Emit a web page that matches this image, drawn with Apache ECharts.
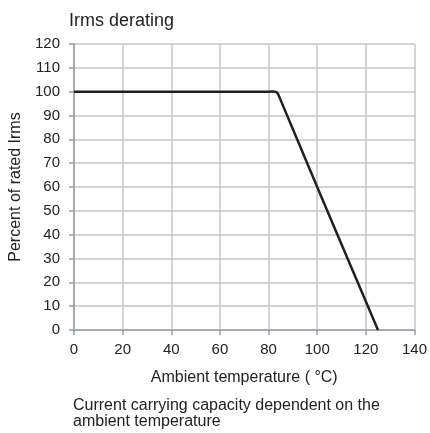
<!DOCTYPE html>
<html><head><meta charset="utf-8">
<script src="https://cdn.jsdelivr.net/npm/echarts@6/dist/echarts.min.js"></script>
<style>html,body{margin:0;padding:0;background:#fff}#c{width:430px;height:433px}</style>
</head><body><div id="c"></div>
<script>
const temperature = [0, 80, 82, 83.5, 84.5, 100, 125];
const percentIrms = [100, 100, 100.1, 99.6, 97.6, 60, 0];
const xTicks = [0, 20, 40, 60, 80, 100, 120, 140];
const yTicks = [0, 10, 20, 30, 40, 50, 60, 70, 80, 90, 100, 110, 120];
const titleText = 'Irms derating';
const xName = 'Ambient temperature ( °C)';
const yName = 'Percent of rated Irms';
const captionLines = ['Current carrying capacity dependent on the', 'ambient temperature'];

const font = 'Arial, "Liberation Sans", Helvetica, sans-serif';
const chart = echarts.init(document.getElementById('c'), null, {renderer: 'canvas'});
chart.setOption({
  animation: false,
  textStyle: {fontFamily: font},
  title: [
    {text: titleText, left: 64, top: 7, textStyle: {fontSize: 18, fontWeight: 'normal', color: '#222', fontFamily: font}},
    {text: captionLines.join('\n'), left: 68, top: 393, textStyle: {fontSize: 16, fontWeight: 'normal', color: '#222', lineHeight: 16, fontFamily: font}}
  ],
  grid: {left: 74, right: 12, top: 44, bottom: 103, containLabel: false},
  xAxis: {
    type: 'value', min: xTicks[0], max: xTicks[xTicks.length - 1], interval: 20,
    name: xName, nameLocation: 'middle', nameGap: 40,
    nameTextStyle: {fontSize: 16, color: '#222', fontFamily: font},
    axisLine: {show: true, lineStyle: {color: '#9a9ea3', width: 1.5}},
    axisTick: {show: true, length: 5, lineStyle: {color: '#9a9ea3', width: 1.5}},
    axisLabel: {fontSize: 15, color: '#222', margin: 12, fontFamily: font},
    splitLine: {show: true, lineStyle: {color: '#c3c6ca', width: 1.5}}
  },
  yAxis: {
    type: 'value', min: yTicks[0], max: yTicks[yTicks.length - 1], interval: 10,
    name: yName, nameLocation: 'middle', nameGap: 50,
    nameTextStyle: {fontSize: 16, color: '#222', fontFamily: font},
    axisLine: {show: true, lineStyle: {color: '#9a9ea3', width: 1.5}},
    axisTick: {show: true, length: 5, lineStyle: {color: '#9a9ea3', width: 1.5}},
    axisLabel: {fontSize: 15, color: '#222', margin: 14, fontFamily: font},
    splitLine: {show: true, lineStyle: {color: '#c3c6ca', width: 1.5}}
  },
  series: [{
    type: 'line',
    data: temperature.map((t, i) => [t, percentIrms[i]]),
    showSymbol: false,
    smooth: 0.3,
    lineStyle: {color: '#231f20', width: 2.5},
    clip: false
  }]
});
</script></body></html>
